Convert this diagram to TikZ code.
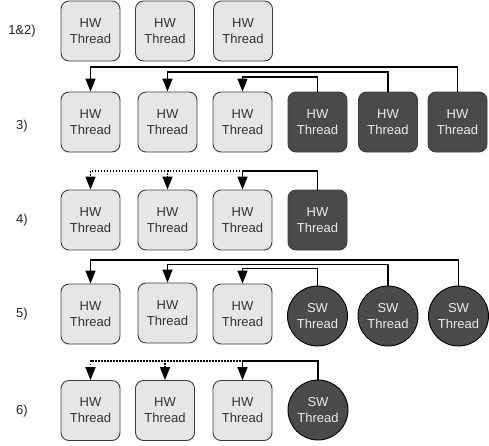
\documentclass[tikz,border=0pt]{standalone}
\usepackage{fontspec}
\setmainfont{Liberation Sans}
\usetikzlibrary{arrows.meta}
\definecolor{lightfill}{HTML}{E6E6E6}
\definecolor{darkfill}{HTML}{4A4A4A}
\definecolor{edgegray}{HTML}{3C3C3C}
\definecolor{txtgray}{HTML}{333333}
\begin{document}
\begin{tikzpicture}[x=1pt,y=-1pt,
  hwbox/.style={draw=edgegray, line width=0.9pt, fill=lightfill, rounded corners=8pt,
    minimum width=59pt, minimum height=60pt, inner sep=0pt, align=center,
    text=txtgray, font=\fontsize{13}{16}\selectfont},
  hwdark/.style={hwbox, fill=darkfill, text=white!92!black},
  swcirc/.style={draw=black, line width=0.9pt, fill=darkfill, circle, minimum size=60pt,
    inner sep=0pt, align=center, text=white!92!black, font=\fontsize{13}{16}\selectfont},
  rowlabel/.style={font=\fontsize{13}{16}\selectfont, text=black!85},
  conn/.style={line width=1.5pt, -{Triangle[width=10pt,length=13pt]}},
  dotconn/.style={conn, dash pattern=on 1.5pt off 1.5pt}]
\useasboundingbox (0,0) rectangle (489,445);

% step labels
\node[rowlabel] (l12) at (22,31) {1\&2)};
\node[rowlabel] (l3) at (22,126) {3)};
\node[rowlabel] (l4) at (22,220) {4)};
\node[rowlabel] (l5) at (22,314) {5)};
\node[rowlabel] (l6) at (22,411) {6)};

% steps 1 & 2
\node[hwbox] (a1) at (90.5,31) {HW\\Thread};
\node[hwbox] (a2) at (165,31) {HW\\Thread};
\node[hwbox] (a3) at (243,31) {HW\\Thread};

% step 3
\node[hwbox]  (b1) at (90.5,122) {HW\\Thread};
\node[hwbox]  (b2) at (167.5,122) {HW\\Thread};
\node[hwbox]  (b3) at (242.5,122) {HW\\Thread};
\node[hwdark] (b4) at (317.5,122) {HW\\Thread};
\node[hwdark] (b5) at (388,122) {HW\\Thread};
\node[hwdark] (b6) at (457.5,122) {HW\\Thread};
\draw[conn] (b6.north) -- (b6.north |- 0,67) -| (b1.north);
\draw[conn] (b5.north) -- (b5.north |- 0,72) -| (b2.north);
\draw[conn] (b4.north) -- (b4.north |- 0,77) -| (b3.north);

% step 4
\node[hwbox]  (c1) at (90.5,220) {HW\\Thread};
\node[hwbox]  (c2) at (167.5,220) {HW\\Thread};
\node[hwbox]  (c3) at (242.5,220) {HW\\Thread};
\node[hwdark] (c4) at (317.5,220) {HW\\Thread};
\draw[dotconn] (c4.north) -- (c4.north |- 0,171) -| (c1.north);
\draw[dotconn] (c4.north) -- (c4.north |- 0,171) -| (c2.north);
\draw[conn] (c4.north) -- (c4.north |- 0,171) -| (c3.north);

% step 5
\node[hwbox]  (d1) at (90.5,314) {HW\\Thread};
\node[hwbox]  (d2) at (167.5,313) {HW\\Thread};
\node[hwbox]  (d3) at (242.5,314) {HW\\Thread};
\node[swcirc] (d4) at (317.5,316) {SW\\Thread};
\node[swcirc] (d5) at (388,316) {SW\\Thread};
\node[swcirc] (d6) at (458.5,316) {SW\\Thread};
\draw[conn] (d6.north) -- (d6.north |- 0,260) -| (d1.north);
\draw[conn] (d5.north) -- (d5.north |- 0,264.5) -| (d2.north);
\draw[conn] (d4.north) -- (d4.north |- 0,268.5) -| (d3.north);

% step 6
\node[hwbox]  (e1) at (90.5,410.5) {HW\\Thread};
\node[hwbox]  (e2) at (165,410.5) {HW\\Thread};
\node[hwbox]  (e3) at (242.5,410.5) {HW\\Thread};
\node[swcirc] (e4) at (318,410) {SW\\Thread};
\draw[dotconn] (e4.north) -- (e4.north |- 0,361) -| (e1.north);
\draw[dotconn] (e4.north) -- (e4.north |- 0,361) -| (e2.north);
\draw[conn] (e4.north) -- (e4.north |- 0,361) -| (e3.north);
\end{tikzpicture}
\end{document}
